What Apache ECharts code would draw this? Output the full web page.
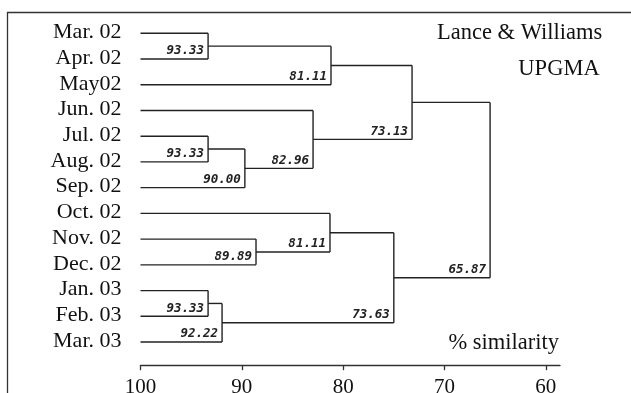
<!DOCTYPE html>
<html>
<head>
<meta charset="utf-8">
<script src="https://cdn.jsdelivr.net/npm/echarts@6/dist/echarts.min.js"></script>
<style>html,body{margin:0;padding:0;background:#fff;}#c{width:631px;height:393px;}</style>
</head>
<body>
<div id="c"></div>
<script>
// Leaves (top to bottom)
const leaves = ['Mar. 02','Apr. 02','May02','Jun. 02','Jul. 02','Aug. 02','Sep. 02','Oct. 02','Nov. 02','Dec. 02','Jan. 03','Feb. 03','Mar. 03'];
// Merges: node id = 13 + merge index
const mergeLeft   = [0, 13, 4, 15, 3, 14, 8, 7, 10, 21, 20, 18];
const mergeRight  = [1, 2, 5, 6, 16, 17, 9, 19, 11, 12, 22, 23];
const mergeHeight = [93.33, 81.2, 93.33, 89.7, 82.97, 73.2, 88.6, 81.3, 93.33, 91.95, 75.0, 65.5];
const mergeLabel  = ['93.33','81.11','93.33','90.00','82.96','73.13','89.89','81.11','93.33','92.22','73.63','65.87'];
const xTicks = [100, 90, 80, 70, 60];

// Build node positions
const nodeX = [], nodeY = [];
leaves.forEach((l, i) => { nodeX.push(100); nodeY.push(i); });
const segs = [], nodeLabels = [];
mergeHeight.forEach((h, k) => {
  const a = mergeLeft[k], b = mergeRight[k];
  const ya = nodeY[a], yb = nodeY[b];
  segs.push([nodeX[a], ya, h, ya]);
  segs.push([nodeX[b], yb, h, yb]);
  segs.push([h, ya, h, yb]);
  nodeX.push(h); nodeY.push((ya + yb) / 2);
  nodeLabels.push([h, Math.max(ya, yb), mergeLabel[k]]);
});

const chart = echarts.init(document.getElementById('c'), null, {renderer: 'canvas'});
const serif = "'Liberation Serif', 'Times New Roman', serif";
chart.setOption({
  backgroundColor: '#ffffff',
  animation: false,
  grid: {left: 140.5, right: 71, top: 20.4, bottom: 27.8, containLabel: false, outerBoundsMode: 'none'},
  xAxis: {
    type: 'value', inverse: true, min: 58.6, max: 100, position: 'bottom',
    axisLine: {show: true, onZero: false, lineStyle: {color: '#333', width: 1.3}},
    axisTick: {show: true, length: 5, customValues: xTicks, lineStyle: {color: '#333', width: 1.3}},
    axisLabel: {customValues: xTicks, color: '#111', fontFamily: serif, fontSize: 21, margin: 12},
    splitLine: {show: false}
  },
  yAxis: {type: 'value', inverse: true, min: -0.5, max: 12.9, show: false},
  graphic: [
    {type: 'polyline', shape: {points: [[7.5, 400], [7.5, 12.5], [640, 12.5]]}, style: {stroke: '#333', lineWidth: 1.3, fill: null}},
    {type: 'text', x: 437, y: 33, style: {text: 'Lance & Williams', font: "22.5px " + serif, fill: '#111', verticalAlign: 'middle'}},
    {type: 'text', x: 559, y: 69, style: {text: 'UPGMA', font: "22.5px " + serif, fill: '#111', align: 'center', verticalAlign: 'middle'}},
    {type: 'text', x: 559, y: 343, style: {text: '% similarity', font: "22.5px " + serif, fill: '#111', align: 'right', verticalAlign: 'middle'}}
  ],
  series: [
    {
      type: 'custom', data: segs, silent: true,
      renderItem: function (params, api) {
        const p1 = api.coord([api.value(0), api.value(1)]);
        const p2 = api.coord([api.value(2), api.value(3)]);
        return {type: 'line', shape: {x1: p1[0], y1: p1[1], x2: p2[0], y2: p2[1]}, style: {stroke: '#222', lineWidth: 1.4}};
      }
    },
    {
      type: 'custom', data: nodeLabels, silent: true,
      renderItem: function (params, api) {
        const p = api.coord([api.value(0), api.value(1)]);
        return {type: 'text', x: p[0] - 4, y: p[1] - 8,
          style: {text: nodeLabels[params.dataIndex][2], font: "italic bold 12.5px 'DejaVu Sans Mono', monospace", fill: '#222', align: 'right', verticalAlign: 'middle'}};
      }
    },
    {
      type: 'custom', data: leaves.map((l, i) => [100, i]), silent: true,
      renderItem: function (params, api) {
        const p = api.coord([api.value(0), api.value(1)]);
        return {type: 'text', x: p[0] - 19, y: p[1] - 1,
          style: {text: leaves[params.dataIndex], font: "22px " + serif, fill: '#111', align: 'right', verticalAlign: 'middle'}};
      }
    }
  ]
});
</script>
</body>
</html>
